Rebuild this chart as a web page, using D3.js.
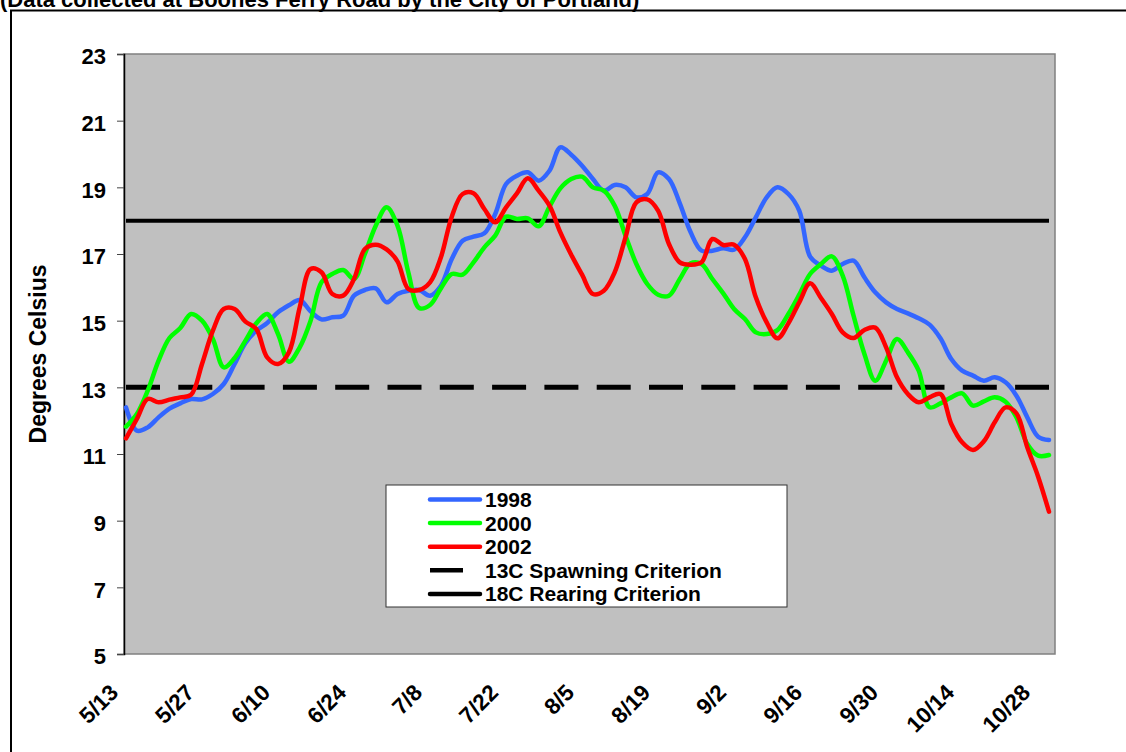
<!DOCTYPE html>
<html>
<head>
<meta charset="utf-8">
<script src="https://cdn.jsdelivr.net/npm/d3@7"></script>
<style>
  body { margin: 0; background: #fff; }
  text { font-family: Arial, "Liberation Sans", sans-serif; font-weight: bold; }
</style>
</head>
<body>
<svg width="1126" height="752"></svg>
<script>
const svg = d3.select("svg");

// DATA (7-day average temperatures, read every 2 days from 5/13)
const xTickLabels = ["5/13", "5/27", "6/10", "6/24", "7/8", "7/22", "8/5", "8/19", "9/2", "9/16", "9/30", "10/14", "10/28"];
const yTickValues = [5, 7, 9, 11, 13, 15, 17, 19, 21, 23];

const temps1998 = [12.4, 11.7, 11.8, 12.1, 12.36, 12.52, 12.65, 12.64, 12.8, 13.1, 13.7, 14.33, 14.7, 14.93, 15.25, 15.46,
  15.62, 15.28, 15.04, 15.1, 15.15, 15.75, 15.92, 15.97, 15.55, 15.8, 15.9, 15.92, 15.75, 16.05, 16.85, 17.4,
  17.52, 17.62, 18.2, 19.1, 19.35, 19.45, 19.2, 19.5, 20.2, 19.98, 19.65, 19.25, 18.9, 19.07, 19.0, 18.7,
  18.8, 19.45, 19.25, 18.52, 17.65, 17.1, 17.1, 17.17, 17.13, 17.5, 18.1, 18.7, 19.0, 18.8, 18.3, 16.92,
  16.65, 16.5, 16.7, 16.8, 16.3, 15.85, 15.55, 15.35, 15.22, 15.07, 14.88, 14.47, 13.85, 13.5, 13.35, 13.2,
  13.3, 13.15, 12.75, 12.1, 11.52, 11.42];

const temps2000 = [11.82, 12.2, 12.9, 13.8, 14.48, 14.78, 15.2, 15.0, 14.45, 13.6, 13.88, 14.4, 14.92, 15.2, 14.6, 13.77,
  14.2, 15.0, 16.15, 16.4, 16.52, 16.25, 17.0, 17.85, 18.4, 17.85, 16.45, 15.38, 15.47, 15.97, 16.4, 16.38,
  16.75, 17.2, 17.55, 18.12, 18.05, 18.07, 17.83, 18.42, 18.97, 19.25, 19.32, 19.0, 18.9, 18.45, 17.55, 16.7,
  16.1, 15.78, 15.75, 16.25, 16.72, 16.7, 16.25, 15.82, 15.35, 15.05, 14.65, 14.6, 14.72, 15.2, 15.78, 16.4,
  16.7, 16.93, 16.35, 15.15, 14.0, 13.2, 13.8, 14.45, 14.05, 13.5, 12.4, 12.52, 12.7, 12.82, 12.45, 12.58,
  12.7, 12.57, 12.1, 11.3, 10.95, 10.97];

const temps2002 = [11.47, 12.05, 12.65, 12.55, 12.63, 12.7, 12.78, 13.7, 14.7, 15.35, 15.35, 14.97, 14.75, 13.9, 13.7, 14.05,
  15.4, 16.55, 16.45, 15.8, 15.75, 16.25, 17.15, 17.28, 17.14, 16.78, 15.95, 15.92, 16.15, 16.9, 18.12, 18.8,
  18.82, 18.35, 17.95, 18.4, 18.82, 19.27, 18.9, 18.45, 17.65, 16.98, 16.38, 15.8, 15.9, 16.45, 17.5, 18.55,
  18.64, 18.3, 17.3, 16.75, 16.68, 16.75, 17.45, 17.27, 17.28, 16.85, 15.7, 14.95, 14.47, 14.92, 15.55, 16.12,
  15.68, 15.2, 14.65, 14.48, 14.72, 14.79, 14.2, 13.3, 12.8, 12.55, 12.7, 12.8, 11.9, 11.35, 11.12, 11.38,
  11.95, 12.4, 12.22, 11.2, 10.32, 9.27];

const spawning = 13;
const rearing = 18;

const seriesNames = ["1998", "2000", "2002"];
const seriesColors = ["#3366FF", "#00FF00", "#FF0000"];

// dates
const parseDay = d3.timeParse("%m/%d");
const startDay = parseDay("5/13");
const dates = d3.timeDay.range(startDay, d3.timeDay.offset(startDay, 171), 2);
const endDay = dates[dates.length - 1];
const tickDates = xTickLabels.map(parseDay);

// LAYOUT
const plot = { left: 124, right: 1055, top: 54, bottom: 654 };

const x = d3.scaleTime().domain([startDay, endDay]).range([126, 1049]);
const y = d3.scaleLinear().domain([5, 23]).range([plot.bottom, plot.top]);

// title (clipped at top of page, as in the original) and outer frame
svg.append("text")
  .attr("x", 0)
  .attr("y", 7)
  .attr("font-size", 22)
  .text("(Data collected at Boones Ferry Road by the City of Portland)");

svg.append("rect")
  .attr("x", 11).attr("y", 10.5)
  .attr("width", 1200).attr("height", 800)
  .attr("fill", "none")
  .attr("stroke", "#000")
  .attr("stroke-width", 2);

// plot area
svg.append("rect")
  .attr("x", plot.left).attr("y", plot.top)
  .attr("width", plot.right - plot.left).attr("height", plot.bottom - plot.top)
  .attr("fill", "#C0C0C0")
  .attr("stroke", "#808080")
  .attr("stroke-width", 1.5);

// y axis
const yAxis = svg.append("g")
  .attr("transform", `translate(${plot.left},0)`)
  .call(d3.axisLeft(y).tickValues(yTickValues).tickSize(7).tickPadding(11).tickFormat(d3.format("d")));
yAxis.select(".domain").attr("stroke", "#000").attr("stroke-width", 1.5);
yAxis.selectAll(".tick line").attr("stroke", "#444");
yAxis.selectAll(".tick text")
  .attr("font-size", 22)
  .attr("font-family", "Arial, 'Liberation Sans', sans-serif")
  .attr("fill", "#000")
  .attr("dy", "0.45em");

svg.append("text")
  .attr("transform", `translate(46,${(plot.top + plot.bottom) / 2}) rotate(-90)`)
  .attr("text-anchor", "middle")
  .attr("font-size", 23)
  .text("Degrees Celsius");

// x axis labels (no tick marks)
const xAxis = svg.append("g")
  .attr("transform", `translate(0,${plot.bottom})`)
  .call(d3.axisBottom(x).tickValues(tickDates).tickSize(0).tickFormat(d3.timeFormat("%-m/%-d")));
xAxis.select(".domain").remove();
xAxis.selectAll(".tick text")
  .attr("font-size", 22.5)
  .attr("font-family", "Arial, 'Liberation Sans', sans-serif")
  .attr("fill", "#000")
  .attr("text-anchor", "end")
  .attr("dy", null)
  .attr("y", null)
  .attr("transform", "translate(-7,40) rotate(-45)");

// criterion lines
const line = d3.line().x(d => x(d[0])).y(d => y(d[1]));

svg.append("path")
  .attr("d", line([[startDay, rearing], [endDay, rearing]]))
  .attr("fill", "none")
  .attr("stroke", "#000")
  .attr("stroke-width", 4);

svg.append("path")
  .attr("d", line([[startDay, spawning], [endDay, spawning]]))
  .attr("fill", "none")
  .attr("stroke", "#000")
  .attr("stroke-width", 5)
  .attr("stroke-dasharray", "34 18.3");

// temperature series
const seriesLine = d3.line()
  .x((d, i) => x(dates[i]))
  .y(d => y(d))
  .curve(d3.curveCatmullRom.alpha(0.5));

[temps1998, temps2000, temps2002].forEach((values, i) => {
  svg.append("path")
    .attr("d", seriesLine(values))
    .attr("fill", "none")
    .attr("stroke", seriesColors[i])
    .attr("stroke-width", 4.5)
    .attr("stroke-linejoin", "round")
    .attr("stroke-linecap", "round");
});

// legend
const legend = svg.append("g").attr("transform", "translate(386,485)");
legend.append("rect")
  .attr("width", 401).attr("height", 122)
  .attr("fill", "#fff")
  .attr("stroke", "#333")
  .attr("stroke-width", 1);

const legendItems = [
  { label: seriesNames[0], color: seriesColors[0], dash: false },
  { label: seriesNames[1], color: seriesColors[1], dash: false },
  { label: seriesNames[2], color: seriesColors[2], dash: false },
  { label: "13C Spawning Criterion", color: "#000", dash: true },
  { label: "18C Rearing Criterion", color: "#000", dash: false }
];

const rows = legend.selectAll("g.item").data(legendItems).enter()
  .append("g")
  .attr("class", "item")
  .attr("transform", (d, i) => `translate(0,${14.5 + i * 23.6})`);

rows.append("line")
  .attr("x1", 44).attr("x2", d => d.dash ? 77 : 94)
  .attr("stroke", d => d.color)
  .attr("stroke-width", 4.5)
  .attr("stroke-linecap", d => d.dash ? "butt" : "round");

rows.append("text")
  .attr("x", 99)
  .attr("dy", "0.36em")
  .attr("font-size", 21)
  .text(d => d.label);
</script>
</body>
</html>
